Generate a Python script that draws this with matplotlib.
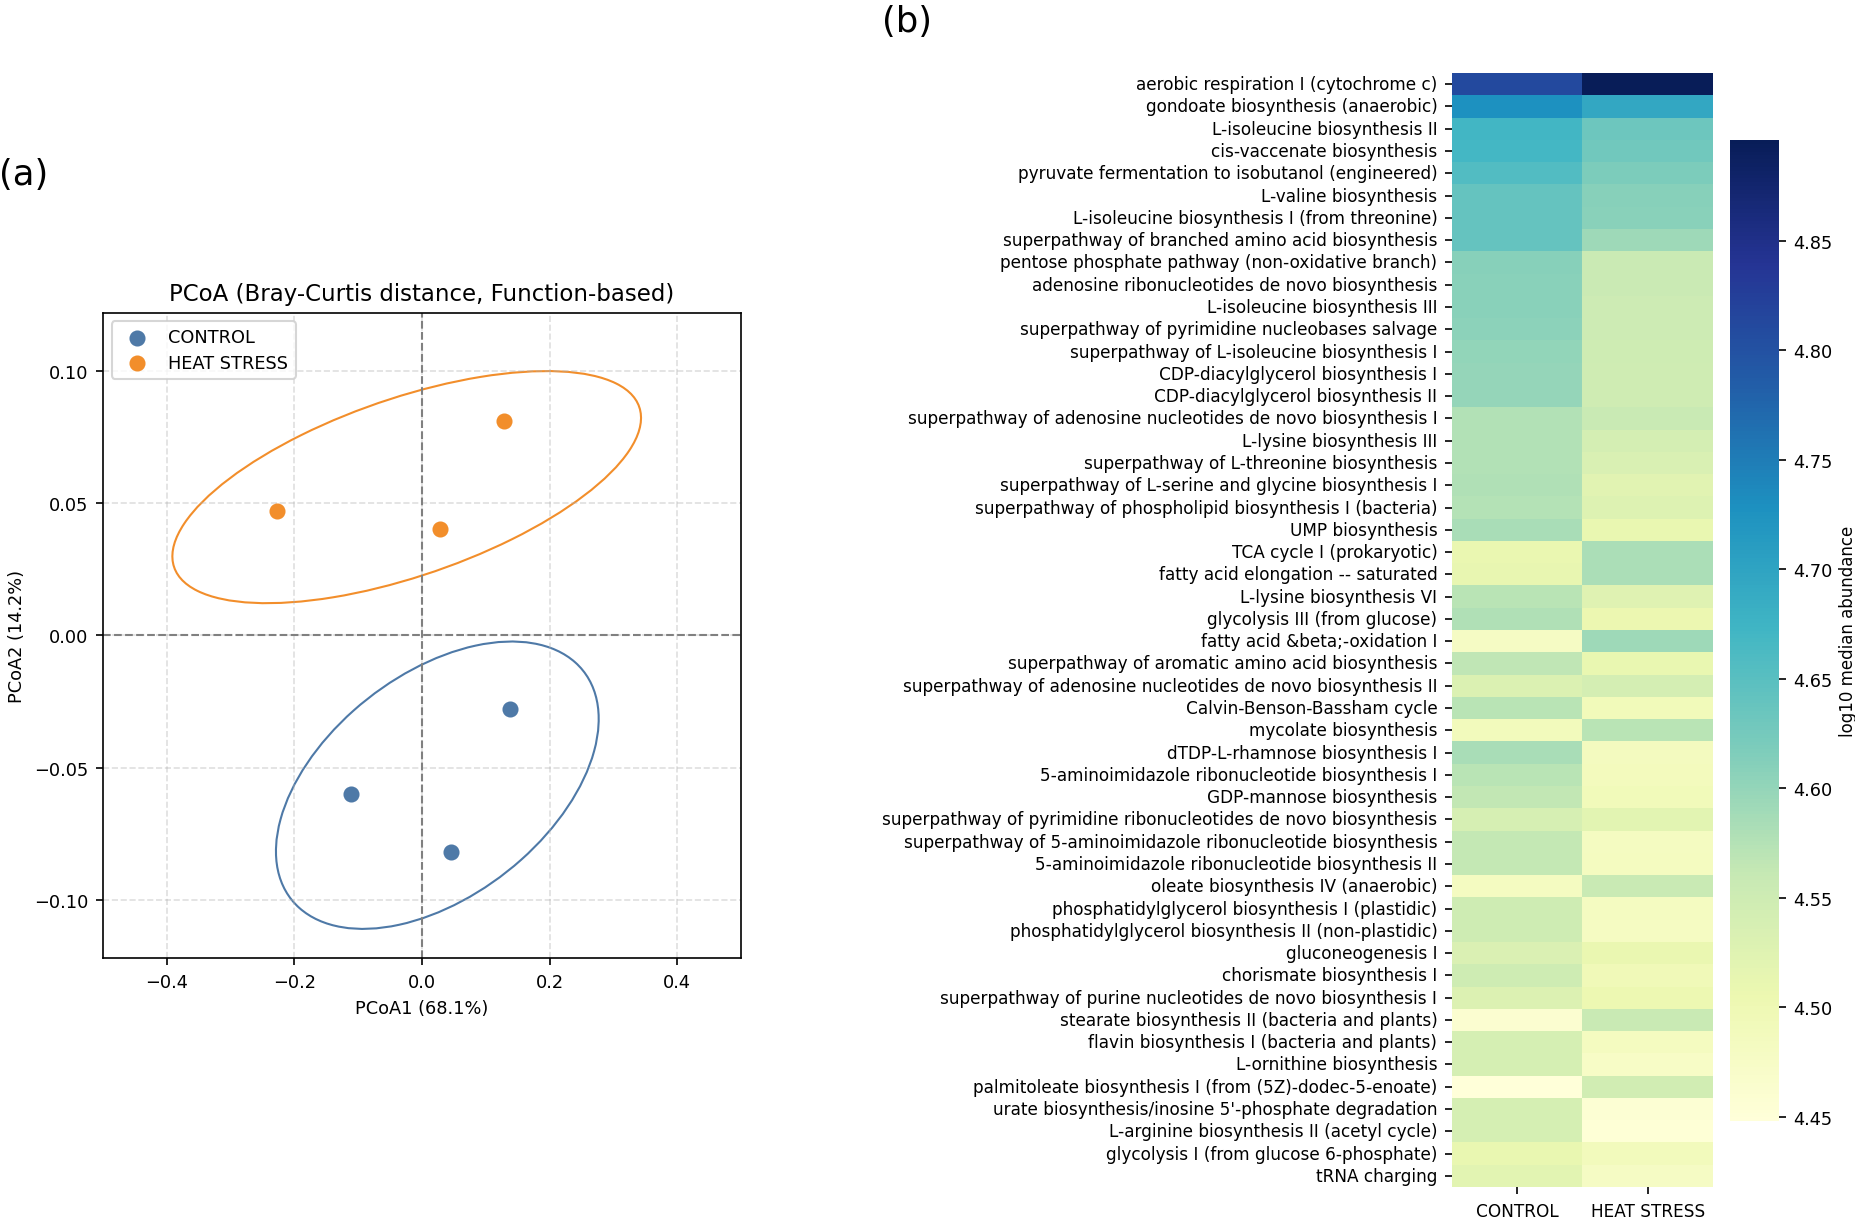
import numpy as np
import matplotlib
matplotlib.use("Agg")
import matplotlib.pyplot as plt
import matplotlib.transforms as transforms
from matplotlib.patches import Ellipse
import pandas as pd
import seaborn as sns

# PCoA scores
groups = ["CONTROL", "HEAT STRESS"]
group_colors = ["#4e79a7", "#f28e2b"]
pc1_control = [0.138, -0.112, 0.046]
pc2_control = [-0.028, -0.060, -0.082]
pc1_heat = [0.128, -0.228, 0.028]
pc2_heat = [0.081, 0.047, 0.040]

# heatmap (panel b)
pathways = [
    "aerobic respiration I (cytochrome c)",
    "gondoate biosynthesis (anaerobic)",
    "L-isoleucine biosynthesis II",
    "cis-vaccenate biosynthesis",
    "pyruvate fermentation to isobutanol (engineered)",
    "L-valine biosynthesis",
    "L-isoleucine biosynthesis I (from threonine)",
    "superpathway of branched amino acid biosynthesis",
    "pentose phosphate pathway (non-oxidative branch)",
    "adenosine ribonucleotides de novo biosynthesis",
    "L-isoleucine biosynthesis III",
    "superpathway of pyrimidine nucleobases salvage",
    "superpathway of L-isoleucine biosynthesis I",
    "CDP-diacylglycerol biosynthesis I",
    "CDP-diacylglycerol biosynthesis II",
    "superpathway of adenosine nucleotides de novo biosynthesis I",
    "L-lysine biosynthesis III",
    "superpathway of L-threonine biosynthesis",
    "superpathway of L-serine and glycine biosynthesis I",
    "superpathway of phospholipid biosynthesis I (bacteria)",
    "UMP biosynthesis",
    "TCA cycle I (prokaryotic)",
    "fatty acid elongation -- saturated",
    "L-lysine biosynthesis VI",
    "glycolysis III (from glucose)",
    "fatty acid &beta;-oxidation I",
    "superpathway of aromatic amino acid biosynthesis",
    "superpathway of adenosine nucleotides de novo biosynthesis II",
    "Calvin-Benson-Bassham cycle",
    "mycolate biosynthesis",
    "dTDP-L-rhamnose biosynthesis I",
    "5-aminoimidazole ribonucleotide biosynthesis I",
    "GDP-mannose biosynthesis",
    "superpathway of pyrimidine ribonucleotides de novo biosynthesis",
    "superpathway of 5-aminoimidazole ribonucleotide biosynthesis",
    "5-aminoimidazole ribonucleotide biosynthesis II",
    "oleate biosynthesis IV (anaerobic)",
    "phosphatidylglycerol biosynthesis I (plastidic)",
    "phosphatidylglycerol biosynthesis II (non-plastidic)",
    "gluconeogenesis I",
    "chorismate biosynthesis I",
    "superpathway of purine nucleotides de novo biosynthesis I",
    "stearate biosynthesis II (bacteria and plants)",
    "flavin biosynthesis I (bacteria and plants)",
    "L-ornithine biosynthesis",
    "palmitoleate biosynthesis I (from (5Z)-dodec-5-enoate)",
    "urate biosynthesis/inosine 5'-phosphate degradation",
    "L-arginine biosynthesis II (acetyl cycle)",
    "glycolysis I (from glucose 6-phosphate)",
    "tRNA charging",
]
control_abund = [
    4.811, 4.728, 4.672, 4.670, 4.657, 4.640, 4.640, 4.640, 4.610, 4.609,
    4.608, 4.607, 4.601, 4.600, 4.600, 4.576, 4.576, 4.577, 4.579, 4.575,
    4.583, 4.508, 4.512, 4.571, 4.578, 4.479, 4.566, 4.532, 4.572, 4.490,
    4.583, 4.572, 4.565, 4.538, 4.562, 4.562, 4.482, 4.551, 4.551, 4.533,
    4.551, 4.529, 4.461, 4.540, 4.540, 4.448, 4.540, 4.540, 4.510, 4.521,
]
heat_abund = [
    4.896, 4.694, 4.632, 4.630, 4.618, 4.610, 4.608, 4.593, 4.556, 4.555,
    4.553, 4.552, 4.550, 4.549, 4.548, 4.557, 4.541, 4.535, 4.523, 4.528,
    4.511, 4.581, 4.582, 4.525, 4.507, 4.593, 4.510, 4.542, 4.492, 4.572,
    4.485, 4.488, 4.493, 4.520, 4.482, 4.484, 4.558, 4.482, 4.481, 4.509,
    4.495, 4.504, 4.557, 4.484, 4.476, 4.545, 4.457, 4.452, 4.490, 4.478,
]


def confidence_ellipse(x, y, ax, n_std=2.0, **kwargs):
    x = np.asarray(x)
    y = np.asarray(y)
    cov = np.cov(x, y)
    pearson = cov[0, 1] / np.sqrt(cov[0, 0] * cov[1, 1])
    rx = np.sqrt(1 + pearson)
    ry = np.sqrt(1 - pearson)
    ell = Ellipse((0, 0), width=rx * 2, height=ry * 2, facecolor="none", **kwargs)
    sx = np.sqrt(cov[0, 0]) * n_std
    sy = np.sqrt(cov[1, 1]) * n_std
    tr = transforms.Affine2D().rotate_deg(45).scale(sx, sy).translate(x.mean(), y.mean())
    ell.set_transform(tr + ax.transData)
    return ax.add_patch(ell)


fig = plt.figure(figsize=(1855 / 150, 1218 / 150), dpi=150)

# ---- (a) PCoA ----
ax = fig.add_axes([0.0555, 0.2126, 0.344, 0.530])
pcs = [(pc1_control, pc2_control), (pc1_heat, pc2_heat)]
for (px, py), name, col in zip(pcs, groups, group_colors):
    ax.scatter(px, py, s=45, color=col, label=name, zorder=3)
    confidence_ellipse(px, py, ax, n_std=2.0, edgecolor=col, linewidth=1.0)
ax.axhline(0, color="gray", linestyle="--", linewidth=1)
ax.axvline(0, color="gray", linestyle="--", linewidth=1)
ax.set_xlim(-0.5, 0.5)
ax.set_ylim(-0.122, 0.122)
ax.set_xticks([-0.4, -0.2, 0.0, 0.2, 0.4])
ax.set_yticks([-0.10, -0.05, 0.0, 0.05, 0.10])
ax.grid(True, linestyle="--", alpha=0.4)
ax.tick_params(labelsize=8.5)
ax.set_xlabel("PCoA1 (68.1%)", fontsize=8.5)
ax.set_ylabel("PCoA2 (14.2%)", fontsize=8.5)
ax.set_title("PCoA (Bray-Curtis distance, Function-based)", fontsize=11)
ax.legend(loc="upper left", fontsize=8.5, labelspacing=0.4)

# ---- (b) heatmap ----
ax_hm = fig.add_axes([0.7827, 0.0246, 0.1407, 0.9146])
ax_cb = fig.add_axes([0.9326, 0.0788, 0.0264, 0.8054])
df = pd.DataFrame({"CONTROL": control_abund, "HEAT STRESS": heat_abund}, index=pathways)
sns.heatmap(df, cmap="YlGnBu", ax=ax_hm, cbar_ax=ax_cb, yticklabels=True)
ax_hm.tick_params(axis="y", labelsize=8.1, rotation=0)
ax_hm.tick_params(axis="x", labelsize=8.1, rotation=0)
ax_cb.tick_params(labelsize=8.5)
ax_cb.set_ylabel("log10 median abundance", fontsize=8, labelpad=3)

fig.text(0.013, 0.856, "(a)", fontsize=17, ha="center", va="center")
fig.text(0.489, 0.982, "(b)", fontsize=17, ha="center", va="center")

fig.savefig("out.png", dpi=150)
